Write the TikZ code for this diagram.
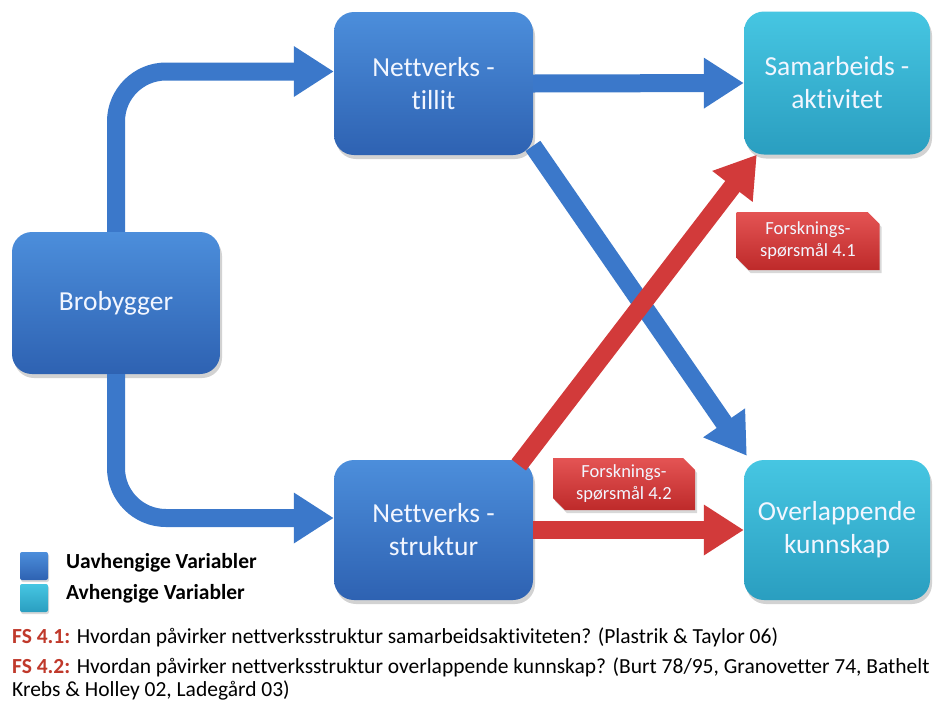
\documentclass[tikz,border=0pt]{standalone}
\usepackage{fontspec}
\setmainfont{Carlito}[Ligatures=CommonOff]
\usetikzlibrary{calc,arrows.meta,shapes.misc,shadows}
\definecolor{bluetop}{HTML}{4C8EDB}
\definecolor{bluebot}{HTML}{2E62B2}
\definecolor{cyantop}{HTML}{46C6E2}
\definecolor{cyanbot}{HTML}{2A9EC0}
\definecolor{redtop}{HTML}{E45454}
\definecolor{redbot}{HTML}{BE2A2A}
\definecolor{arrowblue}{HTML}{3B78CA}
\definecolor{arrowred}{HTML}{D23A3A}
\definecolor{fsred}{HTML}{C0392B}
\definecolor{boxtext}{HTML}{F2F6FF}
\tikzset{
  varbox/.style={rounded corners=20pt, draw=none, text=boxtext, align=center,
    font=\fontsize{27.5}{33}\selectfont,
    drop shadow={opacity=0.35, shadow xshift=2pt, shadow yshift=-4pt}},
  indep/.style={varbox, top color=bluetop, bottom color=bluebot},
  dep/.style={varbox, top color=cyantop, bottom color=cyanbot},
  question/.style={chamfered rectangle, chamfered rectangle corners={north east,south west},
    chamfered rectangle xsep=6pt, chamfered rectangle ysep=6pt,
    top color=redtop, bottom color=redbot, text=boxtext, align=center,
    font=\fontsize{18.5}{22}\selectfont, inner sep=0pt,
    drop shadow={opacity=0.3, shadow xshift=2pt, shadow yshift=-3pt}},
  barrow/.style={draw=arrowblue, line width=18pt, -{Triangle[length=40pt,width=48pt]}},
  rarrow/.style={draw=arrowred, line width=18pt, -{Triangle[length=40pt,width=48pt]}},
  legsq/.style={minimum size=28pt, inner sep=0pt, rounded corners=2pt,
    drop shadow={opacity=0.3, shadow xshift=1pt, shadow yshift=-2pt}},
  legtxt/.style={anchor=west, font=\fontsize{21.5}{24}\selectfont\bfseries, inner sep=0pt},
  fstxt/.style={anchor=west, font=\fontsize{21.5}{24}\selectfont, inner sep=0pt}
}
\newcommand{\fslabel}[1]{\textcolor{fsred}{\bfseries #1}}
\begin{document}
\begin{tikzpicture}[x=1pt,y=-1pt]
\useasboundingbox[fill=white] (0,0) rectangle (933,702);

% variable boxes
\path
  (116,303)   node[indep, minimum width=208pt, minimum height=142pt] (bro) {Brobygger}
  (433.5,83.5) node[indep, minimum width=199pt, minimum height=143pt] (tillit) {Nettverks -\\tillit}
  (433.5,530) node[indep, minimum width=199pt, minimum height=140pt] (struktur) {Nettverks -\\struktur}
  (837,83)    node[dep, minimum width=186pt, minimum height=143pt] (samar) {Samarbeids -\\aktivitet}
  (837,530)   node[dep, minimum width=186pt, minimum height=140pt] (overlap) {Overlappende\\kunnskap};

% connectors
\coordinate (tillitin) at ($(tillit.west)+(0,-12)$);
\coordinate (strukin) at ($(struktur.west)+(0,-12)$);
\draw[barrow, rounded corners=50pt] (bro.north) |- (tillitin);
\draw[barrow, rounded corners=50pt] (bro.south) |- (strukin);
\draw[barrow] (tillit.east) -- (samar.west);
\coordinate (bdstart) at ($(tillit.south east)+(2,-6)$);
\coordinate (bdend) at ($(overlap.north west)+(3,-4)$);
\draw[barrow, shorten <=-4pt] (bdstart) -- (bdend);
\coordinate (rdstart) at ($(struktur.north east)+(-12,2)$);
\coordinate (rdend) at ($(samar.south west)+(13,0)$);
\draw[rarrow, shorten <=-4pt] (rdstart) -- (rdend);
\draw[rarrow] (struktur.east) -- (overlap.west);

% question labels
\node[question, minimum width=143pt, minimum height=58pt] (q1) at (808,241) {Forsknings-\\spørsmål 4.1};
\node[question, minimum width=142pt, minimum height=52pt] (q2) at (624,484) {Forsknings-\\spørsmål 4.2};

% legend
\node[legsq, top color=bluetop, bottom color=bluebot] (lb) at (34,566) {};
\node[legsq, top color=cyantop, bottom color=cyanbot] (lc) at (34,598) {};
\node[legtxt] (lbt) at (66,563) {Uavhengige Variabler};
\node[legtxt] (lct) at (66,594) {Avhengige Variabler};

% research questions
\node[fstxt] (fs1) at (12,637) {\fslabel{FS 4.1:} Hvordan påvirker nettverksstruktur samarbeidsaktiviteten? (Plastrik \& Taylor 06)};
\node[fstxt] (fs2) at (12,667) {\fslabel{FS 4.2:} Hvordan påvirker nettverksstruktur overlappende kunnskap? (Burt 78/95, Granovetter 74, Bathelt};
\node[fstxt] (fs3) at (12,690) {Krebs \& Holley 02, Ladegård 03)};
\end{tikzpicture}
\end{document}
